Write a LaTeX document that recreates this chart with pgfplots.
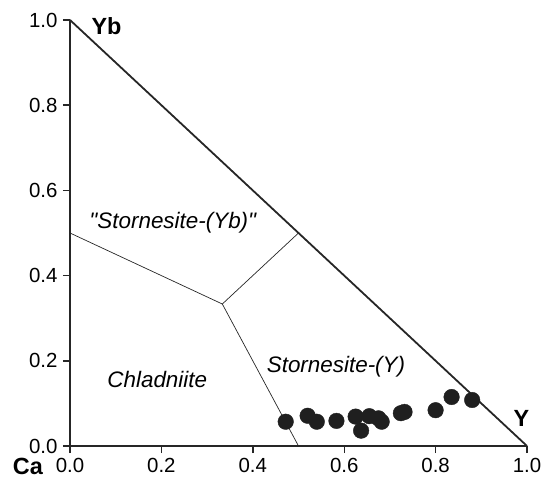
\documentclass[border=0pt]{standalone}
\usepackage{pgfplots}
\pgfplotsset{compat=1.18}
\usepackage{fontspec}
\setmainfont{Liberation Sans}
\begin{document}
\begin{tikzpicture}
\path[use as bounding box] (-70bp,-41bp) rectangle (472bp,446bp);
\begin{axis}[
  at={(0,0)}, anchor=south west,
  scale only axis, width=457bp, height=426bp,
  xmin=0, xmax=1, ymin=0, ymax=1,
  axis x line=bottom, axis y line=left,
  axis line style={line width=1.8bp, -, black!85},
  xtick={0,0.2,0.4,0.6,0.8,1.0},
  ytick={0,0.2,0.4,0.6,0.8,1.0},
  tick align=outside,
  major tick length=7bp,
  tick style={line width=1.4bp, black!85},
  ticklabel style={font=\fontsize{20.5}{22}\selectfont},
  xticklabel style={yshift=-2bp},
  yticklabel style={xshift=-2bp},
  /pgf/number format/.cd, fixed, fixed zerofill, precision=1, assume math mode=true,
  /pgfplots/.cd,
  clip=false,
]
\addplot[black!85, line width=1.8bp] coordinates {(0,1) (1,0)};
\addplot[black!85, line width=0.7bp] coordinates {(0,0.5) (0.3333,0.3333)};
\addplot[black!85, line width=0.7bp] coordinates {(0.3333,0.3333) (0.5,0.5)};
\addplot[black!85, line width=0.7bp] coordinates {(0.3333,0.3333) (0.5,0)};
\addplot[only marks, mark=*, mark size=7.8bp, black!88, mark options={draw=black!88, fill=black!88}] coordinates {
(0.472,0.057) (0.520,0.071) (0.540,0.057) (0.583,0.059) (0.625,0.069)
(0.637,0.036) (0.655,0.070) (0.675,0.065) (0.682,0.057) (0.724,0.077)
(0.732,0.080) (0.800,0.084) (0.835,0.115) (0.880,0.108)
};
\node[font=\fontsize{22.5}{24}\itshape] at (axis cs:0.225,0.525) {\textquotedbl Stornesite-(Yb)\textquotedbl};
\node[font=\fontsize{22.5}{24}\itshape] at (axis cs:0.191,0.156) {Chladniite};
\node[font=\fontsize{22.5}{24}\itshape] at (axis cs:0.582,0.186) {Stornesite-(Y)};
\node[font=\fontsize{23.5}{25}\bfseries] at (axis cs:0.080,0.985) {Yb};
\node[font=\fontsize{23.5}{25}\bfseries] at (axis cs:0.988,0.065) {Y};
\node[font=\fontsize{23.5}{25}\bfseries] at (axis cs:-0.092,-0.049) {Ca};
\end{axis}
\end{tikzpicture}
\end{document}
